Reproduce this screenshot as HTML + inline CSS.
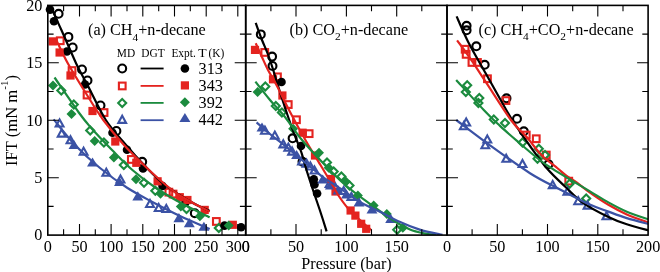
<!DOCTYPE html>
<html><head><meta charset="utf-8"><style>
html,body{margin:0;padding:0;background:#fff;}
body{width:660px;height:272px;overflow:hidden;}
svg{display:block;will-change:transform;}
.t{font-family:"Liberation Serif",serif;font-size:16.2px;fill:#000;}
.s{font-family:"Liberation Serif",serif;font-size:11.4px;fill:#000;}
.sub{font-size:11.4px;}
.sup{font-size:11px;}
</style></head><body>
<svg width="660" height="272" viewBox="0 0 660 272">
<rect width="660" height="272" fill="#fff"/>
<defs><clipPath id="ca"><rect x="47.8" y="5.4" width="197.9" height="229.7"/></clipPath>
<clipPath id="cb"><rect x="245.7" y="5.4" width="201.3" height="229.7"/></clipPath>
<clipPath id="cc"><rect x="447.0" y="5.4" width="201.1" height="229.7"/></clipPath></defs>
<g>
<circle cx="58.6" cy="13.8" r="3.95" fill="none" stroke="#000" stroke-width="2.1"/>
<circle cx="68.4" cy="36.9" r="3.95" fill="none" stroke="#000" stroke-width="2.1"/>
<circle cx="72.7" cy="47.5" r="3.95" fill="none" stroke="#000" stroke-width="2.1"/>
<circle cx="82.0" cy="69.5" r="3.95" fill="none" stroke="#000" stroke-width="2.1"/>
<circle cx="87.5" cy="80.5" r="3.95" fill="none" stroke="#000" stroke-width="2.1"/>
<circle cx="100.5" cy="105.5" r="3.95" fill="none" stroke="#000" stroke-width="2.1"/>
<circle cx="116.4" cy="131.0" r="3.95" fill="none" stroke="#000" stroke-width="2.1"/>
<circle cx="142.2" cy="161.8" r="3.95" fill="none" stroke="#000" stroke-width="2.1"/>
<circle cx="194.8" cy="213.2" r="3.95" fill="none" stroke="#000" stroke-width="2.1"/>
<rect x="56.9" y="37.4" width="6.7" height="6.7" fill="none" stroke="#e4231f" stroke-width="2.1"/>
<rect x="68.7" y="67.2" width="6.7" height="6.7" fill="none" stroke="#e4231f" stroke-width="2.1"/>
<rect x="83.7" y="91.7" width="6.7" height="6.7" fill="none" stroke="#e4231f" stroke-width="2.1"/>
<rect x="100.7" y="109.2" width="6.7" height="6.7" fill="none" stroke="#e4231f" stroke-width="2.1"/>
<rect x="128.0" y="156.1" width="6.7" height="6.7" fill="none" stroke="#e4231f" stroke-width="2.1"/>
<rect x="165.5" y="188.8" width="6.7" height="6.7" fill="none" stroke="#e4231f" stroke-width="2.1"/>
<rect x="169.7" y="190.7" width="6.7" height="6.7" fill="none" stroke="#e4231f" stroke-width="2.1"/>
<rect x="213.0" y="218.1" width="6.7" height="6.7" fill="none" stroke="#e4231f" stroke-width="2.1"/>
<path d="M61.3 86.5L65.3 90.5L61.3 94.5L57.3 90.5Z" fill="none" stroke="#1b8b3e" stroke-width="2.1"/>
<path d="M73.8 100.5L77.8 104.5L73.8 108.5L69.8 104.5Z" fill="none" stroke="#1b8b3e" stroke-width="2.1"/>
<path d="M90.2 126.5L94.2 130.5L90.2 134.5L86.2 130.5Z" fill="none" stroke="#1b8b3e" stroke-width="2.1"/>
<path d="M103.9 138.5L107.9 142.5L103.9 146.5L99.9 142.5Z" fill="none" stroke="#1b8b3e" stroke-width="2.1"/>
<path d="M123.8 161.0L127.8 165.0L123.8 169.0L119.8 165.0Z" fill="none" stroke="#1b8b3e" stroke-width="2.1"/>
<path d="M144.0 178.7L148.0 182.7L144.0 186.7L140.0 182.7Z" fill="none" stroke="#1b8b3e" stroke-width="2.1"/>
<path d="M155.3 186.8L159.3 190.8L155.3 194.8L151.3 190.8Z" fill="none" stroke="#1b8b3e" stroke-width="2.1"/>
<path d="M186.5 205.0L190.5 209.0L186.5 213.0L182.5 209.0Z" fill="none" stroke="#1b8b3e" stroke-width="2.1"/>
<path d="M218.8 224.0L222.8 228.0L218.8 232.0L214.8 228.0Z" fill="none" stroke="#1b8b3e" stroke-width="2.1"/>
<path d="M59.6 119.4L63.5 126.5L55.7 126.5Z" fill="none" stroke="#3b52a5" stroke-width="2.1" stroke-linejoin="miter"/>
<path d="M61.7 129.5L65.6 136.6L57.8 136.6Z" fill="none" stroke="#3b52a5" stroke-width="2.1" stroke-linejoin="miter"/>
<path d="M70.5 136.2L74.4 143.3L66.6 143.3Z" fill="none" stroke="#3b52a5" stroke-width="2.1" stroke-linejoin="miter"/>
<path d="M83.6 147.7L87.5 154.8L79.7 154.8Z" fill="none" stroke="#3b52a5" stroke-width="2.1" stroke-linejoin="miter"/>
<path d="M106.3 168.7L110.2 175.8L102.4 175.8Z" fill="none" stroke="#3b52a5" stroke-width="2.1" stroke-linejoin="miter"/>
<path d="M120.5 175.4L124.4 182.5L116.6 182.5Z" fill="none" stroke="#3b52a5" stroke-width="2.1" stroke-linejoin="miter"/>
<path d="M150.0 199.9L153.9 207.0L146.1 207.0Z" fill="none" stroke="#3b52a5" stroke-width="2.1" stroke-linejoin="miter"/>
<path d="M158.7 203.9L162.6 211.0L154.8 211.0Z" fill="none" stroke="#3b52a5" stroke-width="2.1" stroke-linejoin="miter"/>
<path d="M166.3 204.9L170.2 212.0L162.4 212.0Z" fill="none" stroke="#3b52a5" stroke-width="2.1" stroke-linejoin="miter"/>
<circle cx="50.0" cy="9.6" r="4.3" fill="#000"/>
<circle cx="54.0" cy="21.2" r="4.3" fill="#000"/>
<circle cx="66.9" cy="51.5" r="4.3" fill="#000"/>
<circle cx="85.0" cy="84.5" r="4.3" fill="#000"/>
<circle cx="112.5" cy="132.8" r="4.3" fill="#000"/>
<circle cx="127.0" cy="149.7" r="4.3" fill="#000"/>
<circle cx="143.0" cy="168.5" r="4.3" fill="#000"/>
<circle cx="162.5" cy="186.0" r="4.3" fill="#000"/>
<circle cx="185.5" cy="202.2" r="4.3" fill="#000"/>
<circle cx="224.5" cy="225.6" r="4.3" fill="#000"/>
<circle cx="241.1" cy="227.2" r="4.3" fill="#000"/>
<rect x="48.6" y="37.3" width="8.2" height="8.2" fill="#e4231f"/>
<rect x="55.5" y="48.4" width="8.2" height="8.2" fill="#e4231f"/>
<rect x="66.4" y="71.4" width="8.2" height="8.2" fill="#e4231f"/>
<rect x="88.4" y="106.9" width="8.2" height="8.2" fill="#e4231f"/>
<rect x="111.2" y="137.4" width="8.2" height="8.2" fill="#e4231f"/>
<rect x="132.2" y="158.7" width="8.2" height="8.2" fill="#e4231f"/>
<rect x="153.5" y="177.2" width="8.2" height="8.2" fill="#e4231f"/>
<rect x="175.7" y="193.1" width="8.2" height="8.2" fill="#e4231f"/>
<rect x="183.3" y="195.9" width="8.2" height="8.2" fill="#e4231f"/>
<rect x="200.6" y="205.8" width="8.2" height="8.2" fill="#e4231f"/>
<rect x="228.7" y="220.7" width="8.2" height="8.2" fill="#e4231f"/>
<path d="M53.0 80.5L58.0 85.5L53.0 90.5L48.0 85.5Z" fill="#1b8b3e"/>
<path d="M71.5 109.0L76.5 114.0L71.5 119.0L66.5 114.0Z" fill="#1b8b3e"/>
<path d="M94.7 136.0L99.7 141.0L94.7 146.0L89.7 141.0Z" fill="#1b8b3e"/>
<path d="M113.9 152.4L118.9 157.4L113.9 162.4L108.9 157.4Z" fill="#1b8b3e"/>
<path d="M136.0 174.2L141.0 179.2L136.0 184.2L131.0 179.2Z" fill="#1b8b3e"/>
<path d="M160.5 188.8L165.5 193.8L160.5 198.8L155.5 193.8Z" fill="#1b8b3e"/>
<path d="M180.8 201.6L185.8 206.6L180.8 211.6L175.8 206.6Z" fill="#1b8b3e"/>
<path d="M199.9 211.3L204.9 216.3L199.9 221.3L194.9 216.3Z" fill="#1b8b3e"/>
<path d="M228.7 220.6L233.7 225.6L228.7 230.6L223.7 225.6Z" fill="#1b8b3e"/>
<path d="M74.0 140.0L79.5 149.1L68.5 149.1Z" fill="#3b52a5"/>
<path d="M92.5 157.5L98.0 166.6L87.0 166.6Z" fill="#3b52a5"/>
<path d="M119.5 177.0L125.0 186.1L114.0 186.1Z" fill="#3b52a5"/>
<path d="M137.8 191.3L143.3 200.4L132.3 200.4Z" fill="#3b52a5"/>
<path d="M178.9 213.1L184.4 222.2L173.4 222.2Z" fill="#3b52a5"/>
<path d="M189.3 218.1L194.8 227.2L183.8 227.2Z" fill="#3b52a5"/>
<path d="M203.9 221.7L209.4 230.8L198.4 230.8Z" fill="#3b52a5"/>
<g clip-path="url(#ca)">
<path d="M50.3 5.7C52.1 9.8 57.0 20.3 61.4 30.0C65.8 39.7 72.1 54.8 76.4 64.0C80.8 73.2 82.6 75.7 87.5 85.0C92.4 94.3 99.4 110.0 105.8 120.0C112.2 130.0 119.5 137.3 126.0 145.0C132.5 152.7 138.5 159.3 145.0 166.0C151.5 172.7 157.0 178.8 165.0 185.0C173.0 191.2 185.6 198.7 193.0 203.0C200.4 207.3 206.9 209.7 209.7 211.0" fill="none" stroke="#000" stroke-width="2.2" stroke-linejoin="round"/>
<path d="M56.5 40.5C58.5 44.4 63.2 54.9 68.2 64.0C73.3 73.1 81.2 85.7 87.0 95.0C92.8 104.3 97.1 111.7 103.3 120.0C109.5 128.3 117.2 137.5 124.0 145.0C130.8 152.5 137.8 159.2 143.8 165.0C149.8 170.8 154.6 175.3 160.0 180.0C165.4 184.7 170.5 189.2 176.0 193.0C181.5 196.8 187.4 199.9 193.0 203.0C198.6 206.1 206.9 210.1 209.7 211.5" fill="none" stroke="#e4231f" stroke-width="2.2" stroke-linejoin="round"/>
<path d="M54.5 77.5C58.5 83.2 72.3 103.6 78.4 112.0C84.5 120.4 85.7 121.7 91.2 128.0C96.8 134.3 105.1 143.0 112.0 150.0C118.9 157.0 125.1 163.7 132.4 170.0C139.7 176.3 147.9 182.5 156.0 188.0C164.1 193.5 172.1 198.1 181.0 203.0C189.9 207.9 204.9 214.9 209.7 217.3" fill="none" stroke="#1b8b3e" stroke-width="2.2" stroke-linejoin="round"/>
<path d="M53.6 119.4C57.2 123.7 67.3 136.9 75.0 145.0C82.7 153.1 91.2 160.8 100.0 168.0C108.8 175.2 118.5 182.2 127.5 188.0C136.6 193.8 145.6 198.3 154.3 203.0C163.1 207.7 170.8 211.7 180.0 216.0C189.2 220.3 204.8 226.8 209.7 229.0" fill="none" stroke="#3b52a5" stroke-width="2.2" stroke-linejoin="round"/>
</g>
</g>
<g>
<circle cx="260.8" cy="34.4" r="3.95" fill="none" stroke="#000" stroke-width="2.1"/>
<circle cx="272.1" cy="56.6" r="3.95" fill="none" stroke="#000" stroke-width="2.1"/>
<circle cx="272.5" cy="66.0" r="3.95" fill="none" stroke="#000" stroke-width="2.1"/>
<circle cx="292.6" cy="138.3" r="3.95" fill="none" stroke="#000" stroke-width="2.1"/>
<circle cx="302.5" cy="161.8" r="3.95" fill="none" stroke="#000" stroke-width="2.1"/>
<rect x="261.4" y="49.1" width="6.7" height="6.7" fill="none" stroke="#e4231f" stroke-width="2.1"/>
<rect x="274.1" y="73.5" width="6.7" height="6.7" fill="none" stroke="#e4231f" stroke-width="2.1"/>
<rect x="284.9" y="101.2" width="6.7" height="6.7" fill="none" stroke="#e4231f" stroke-width="2.1"/>
<rect x="293.1" y="116.4" width="6.7" height="6.7" fill="none" stroke="#e4231f" stroke-width="2.1"/>
<rect x="305.8" y="130.3" width="6.7" height="6.7" fill="none" stroke="#e4231f" stroke-width="2.1"/>
<path d="M265.3 82.6L269.3 86.6L265.3 90.6L261.3 86.6Z" fill="none" stroke="#1b8b3e" stroke-width="2.1"/>
<path d="M275.8 101.9L279.8 105.9L275.8 109.9L271.8 105.9Z" fill="none" stroke="#1b8b3e" stroke-width="2.1"/>
<path d="M281.9 108.5L285.9 112.5L281.9 116.5L277.9 112.5Z" fill="none" stroke="#1b8b3e" stroke-width="2.1"/>
<path d="M327.0 158.5L331.0 162.5L327.0 166.5L323.0 162.5Z" fill="none" stroke="#1b8b3e" stroke-width="2.1"/>
<path d="M333.7 167.6L337.7 171.6L333.7 175.6L329.7 171.6Z" fill="none" stroke="#1b8b3e" stroke-width="2.1"/>
<path d="M341.4 172.5L345.4 176.5L341.4 180.5L337.4 176.5Z" fill="none" stroke="#1b8b3e" stroke-width="2.1"/>
<path d="M349.5 181.5L353.5 185.5L349.5 189.5L345.5 185.5Z" fill="none" stroke="#1b8b3e" stroke-width="2.1"/>
<path d="M397.2 225.8L401.2 229.8L397.2 233.8L393.2 229.8Z" fill="none" stroke="#1b8b3e" stroke-width="2.1"/>
<path d="M264.9 126.6L268.8 133.7L261.0 133.7Z" fill="none" stroke="#3b52a5" stroke-width="2.1" stroke-linejoin="miter"/>
<path d="M274.8 131.6L278.7 138.7L270.9 138.7Z" fill="none" stroke="#3b52a5" stroke-width="2.1" stroke-linejoin="miter"/>
<path d="M283.3 140.3L287.2 147.4L279.4 147.4Z" fill="none" stroke="#3b52a5" stroke-width="2.1" stroke-linejoin="miter"/>
<path d="M288.3 143.6L292.2 150.7L284.4 150.7Z" fill="none" stroke="#3b52a5" stroke-width="2.1" stroke-linejoin="miter"/>
<path d="M292.1 147.5L296.0 154.6L288.2 154.6Z" fill="none" stroke="#3b52a5" stroke-width="2.1" stroke-linejoin="miter"/>
<path d="M302.0 157.4L305.9 164.5L298.1 164.5Z" fill="none" stroke="#3b52a5" stroke-width="2.1" stroke-linejoin="miter"/>
<path d="M306.5 159.6L310.4 166.7L302.6 166.7Z" fill="none" stroke="#3b52a5" stroke-width="2.1" stroke-linejoin="miter"/>
<path d="M310.4 162.4L314.3 169.5L306.5 169.5Z" fill="none" stroke="#3b52a5" stroke-width="2.1" stroke-linejoin="miter"/>
<path d="M314.5 166.4L318.4 173.5L310.6 173.5Z" fill="none" stroke="#3b52a5" stroke-width="2.1" stroke-linejoin="miter"/>
<path d="M329.6 179.9L333.5 187.0L325.7 187.0Z" fill="none" stroke="#3b52a5" stroke-width="2.1" stroke-linejoin="miter"/>
<path d="M332.6 178.6L336.5 185.7L328.7 185.7Z" fill="none" stroke="#3b52a5" stroke-width="2.1" stroke-linejoin="miter"/>
<path d="M343.7 186.9L347.6 194.0L339.8 194.0Z" fill="none" stroke="#3b52a5" stroke-width="2.1" stroke-linejoin="miter"/>
<path d="M351.4 192.9L355.3 200.0L347.5 200.0Z" fill="none" stroke="#3b52a5" stroke-width="2.1" stroke-linejoin="miter"/>
<circle cx="281.5" cy="82.0" r="4.3" fill="#000"/>
<circle cx="301.0" cy="146.0" r="4.3" fill="#000"/>
<circle cx="313.8" cy="179.3" r="4.3" fill="#000"/>
<circle cx="314.5" cy="184.5" r="4.3" fill="#000"/>
<circle cx="317.1" cy="193.5" r="4.3" fill="#000"/>
<rect x="250.9" y="45.8" width="8.2" height="8.2" fill="#e4231f"/>
<rect x="268.9" y="75.2" width="8.2" height="8.2" fill="#e4231f"/>
<rect x="278.3" y="91.4" width="8.2" height="8.2" fill="#e4231f"/>
<rect x="298.5" y="128.6" width="8.2" height="8.2" fill="#e4231f"/>
<rect x="310.9" y="151.4" width="8.2" height="8.2" fill="#e4231f"/>
<rect x="326.9" y="174.9" width="8.2" height="8.2" fill="#e4231f"/>
<rect x="331.4" y="187.4" width="8.2" height="8.2" fill="#e4231f"/>
<rect x="346.5" y="206.4" width="8.2" height="8.2" fill="#e4231f"/>
<rect x="351.3" y="211.5" width="8.2" height="8.2" fill="#e4231f"/>
<rect x="357.1" y="219.7" width="8.2" height="8.2" fill="#e4231f"/>
<rect x="362.1" y="224.7" width="8.2" height="8.2" fill="#e4231f"/>
<path d="M257.6 87.1L262.6 92.1L257.6 97.1L252.6 92.1Z" fill="#1b8b3e"/>
<path d="M293.1 123.8L298.1 128.8L293.1 133.8L288.1 128.8Z" fill="#1b8b3e"/>
<path d="M319.0 147.8L324.0 152.8L319.0 157.8L314.0 152.8Z" fill="#1b8b3e"/>
<path d="M328.7 162.8L333.7 167.8L328.7 172.8L323.7 167.8Z" fill="#1b8b3e"/>
<path d="M345.8 176.5L350.8 181.5L345.8 186.5L340.8 181.5Z" fill="#1b8b3e"/>
<path d="M357.9 190.5L362.9 195.5L357.9 200.5L352.9 195.5Z" fill="#1b8b3e"/>
<path d="M373.7 200.5L378.7 205.5L373.7 210.5L368.7 205.5Z" fill="#1b8b3e"/>
<path d="M386.8 209.0L391.8 214.0L386.8 219.0L381.8 214.0Z" fill="#1b8b3e"/>
<path d="M402.8 222.8L407.8 227.8L402.8 232.8L397.8 227.8Z" fill="#1b8b3e"/>
<path d="M262.0 122.5L267.5 131.6L256.5 131.6Z" fill="#3b52a5"/>
<path d="M296.6 150.0L302.1 159.1L291.1 159.1Z" fill="#3b52a5"/>
<path d="M322.7 174.5L328.2 183.6L317.2 183.6Z" fill="#3b52a5"/>
<path d="M330.4 180.5L335.9 189.6L324.9 189.6Z" fill="#3b52a5"/>
<path d="M338.1 185.3L343.6 194.4L332.6 194.4Z" fill="#3b52a5"/>
<path d="M346.5 189.5L352.0 198.6L341.0 198.6Z" fill="#3b52a5"/>
<path d="M359.0 197.3L364.5 206.4L353.5 206.4Z" fill="#3b52a5"/>
<path d="M372.0 204.5L377.5 213.6L366.5 213.6Z" fill="#3b52a5"/>
<path d="M390.7 213.8L396.2 222.9L385.2 222.9Z" fill="#3b52a5"/>
<g clip-path="url(#cb)">
<path d="M255.7 22.9C256.8 25.8 259.6 33.8 262.0 40.0C264.4 46.2 266.6 50.0 270.0 60.0C273.4 70.0 278.8 88.7 282.5 100.0C286.2 111.3 289.6 121.3 292.0 128.0C294.4 134.7 294.9 135.6 296.6 140.0C298.3 144.4 300.4 149.3 302.0 154.3C303.6 159.3 304.7 164.1 306.5 170.0C308.3 175.9 310.8 183.3 313.0 190.0C315.2 196.7 317.5 203.1 319.8 210.0C322.1 216.9 325.5 227.8 326.6 231.4" fill="none" stroke="#000" stroke-width="2.2" stroke-linejoin="round"/>
<path d="M255.7 43.3C256.7 45.4 259.4 51.5 261.5 56.0C263.6 60.5 265.4 65.0 268.0 70.0C270.6 75.0 273.5 79.3 277.0 86.0C280.5 92.7 284.3 101.0 289.0 110.0C293.7 119.0 300.1 130.8 305.4 140.0C310.6 149.2 316.0 157.5 320.5 165.0C325.0 172.5 329.6 180.0 332.5 185.0C335.4 190.0 335.5 191.1 338.1 195.0C340.7 198.9 344.2 204.0 347.9 208.2C351.5 212.4 356.1 216.4 360.0 220.0C363.9 223.6 369.4 228.3 371.2 230.0" fill="none" stroke="#e4231f" stroke-width="2.2" stroke-linejoin="round"/>
<path d="M255.4 81.7C257.8 84.8 265.1 94.1 270.0 100.0C274.9 105.9 279.7 110.3 285.0 117.0C290.3 123.7 295.4 132.0 302.0 140.0C308.6 148.0 317.7 157.5 324.9 165.0C332.1 172.5 337.8 178.5 345.3 185.0C352.8 191.5 361.7 197.9 370.0 204.0C378.3 210.1 388.3 217.2 395.0 221.5C401.7 225.8 405.2 227.5 410.0 229.5C414.8 231.5 419.4 232.4 423.7 233.3C428.0 234.2 433.9 234.5 436.0 234.7" fill="none" stroke="#1b8b3e" stroke-width="2.2" stroke-linejoin="round"/>
<path d="M256.6 122.4C258.8 124.3 265.6 130.3 270.0 134.0C274.4 137.7 278.9 140.8 283.3 144.4C287.7 148.0 292.2 151.8 296.6 155.5C301.1 159.2 305.4 162.8 310.0 166.5C314.6 170.2 319.4 174.7 324.0 178.0C328.6 181.3 331.6 182.6 337.6 186.6C343.6 190.6 352.9 197.8 360.0 202.0C367.1 206.2 373.8 208.7 380.0 211.8C386.2 214.9 390.6 217.8 397.2 220.8C403.8 223.8 412.1 227.2 419.7 229.6C427.2 231.9 438.7 234.0 442.5 234.9" fill="none" stroke="#3b52a5" stroke-width="2.2" stroke-linejoin="round"/>
</g>
</g>
<g>
<circle cx="466.6" cy="25.8" r="3.95" fill="none" stroke="#000" stroke-width="2.1"/>
<circle cx="466.6" cy="30.3" r="3.95" fill="none" stroke="#000" stroke-width="2.1"/>
<circle cx="476.3" cy="46.3" r="3.95" fill="none" stroke="#000" stroke-width="2.1"/>
<circle cx="484.7" cy="64.8" r="3.95" fill="none" stroke="#000" stroke-width="2.1"/>
<circle cx="506.5" cy="98.3" r="3.95" fill="none" stroke="#000" stroke-width="2.1"/>
<circle cx="517.0" cy="118.8" r="3.95" fill="none" stroke="#000" stroke-width="2.1"/>
<circle cx="523.8" cy="131.3" r="3.95" fill="none" stroke="#000" stroke-width="2.1"/>
<circle cx="548.5" cy="164.3" r="3.95" fill="none" stroke="#000" stroke-width="2.1"/>
<rect x="461.8" y="45.9" width="6.7" height="6.7" fill="none" stroke="#e4231f" stroke-width="2.1"/>
<rect x="462.8" y="51.0" width="6.7" height="6.7" fill="none" stroke="#e4231f" stroke-width="2.1"/>
<rect x="468.6" y="59.1" width="6.7" height="6.7" fill="none" stroke="#e4231f" stroke-width="2.1"/>
<rect x="474.1" y="59.1" width="6.7" height="6.7" fill="none" stroke="#e4231f" stroke-width="2.1"/>
<rect x="484.1" y="75.4" width="6.7" height="6.7" fill="none" stroke="#e4231f" stroke-width="2.1"/>
<rect x="502.6" y="97.2" width="6.7" height="6.7" fill="none" stroke="#e4231f" stroke-width="2.1"/>
<rect x="522.9" y="131.7" width="6.7" height="6.7" fill="none" stroke="#e4231f" stroke-width="2.1"/>
<rect x="532.9" y="135.4" width="6.7" height="6.7" fill="none" stroke="#e4231f" stroke-width="2.1"/>
<rect x="542.9" y="151.7" width="6.7" height="6.7" fill="none" stroke="#e4231f" stroke-width="2.1"/>
<rect x="565.4" y="177.8" width="6.7" height="6.7" fill="none" stroke="#e4231f" stroke-width="2.1"/>
<path d="M467.2 81.3L471.2 85.3L467.2 89.3L463.2 85.3Z" fill="none" stroke="#1b8b3e" stroke-width="2.1"/>
<path d="M465.8 87.9L469.8 91.9L465.8 95.9L461.8 91.9Z" fill="none" stroke="#1b8b3e" stroke-width="2.1"/>
<path d="M479.3 94.0L483.3 98.0L479.3 102.0L475.3 98.0Z" fill="none" stroke="#1b8b3e" stroke-width="2.1"/>
<path d="M478.4 99.0L482.4 103.0L478.4 107.0L474.4 103.0Z" fill="none" stroke="#1b8b3e" stroke-width="2.1"/>
<path d="M493.8 115.5L497.8 119.5L493.8 123.5L489.8 119.5Z" fill="none" stroke="#1b8b3e" stroke-width="2.1"/>
<path d="M505.0 119.0L509.0 123.0L505.0 127.0L501.0 123.0Z" fill="none" stroke="#1b8b3e" stroke-width="2.1"/>
<path d="M522.5 138.5L526.5 142.5L522.5 146.5L518.5 142.5Z" fill="none" stroke="#1b8b3e" stroke-width="2.1"/>
<path d="M538.8 144.8L542.8 148.8L538.8 152.8L534.8 148.8Z" fill="none" stroke="#1b8b3e" stroke-width="2.1"/>
<path d="M537.5 154.8L541.5 158.8L537.5 162.8L533.5 158.8Z" fill="none" stroke="#1b8b3e" stroke-width="2.1"/>
<path d="M545.0 151.0L549.0 155.0L545.0 159.0L541.0 155.0Z" fill="none" stroke="#1b8b3e" stroke-width="2.1"/>
<path d="M569.6 179.8L573.6 183.8L569.6 187.8L565.6 183.8Z" fill="none" stroke="#1b8b3e" stroke-width="2.1"/>
<path d="M586.2 194.5L590.2 198.5L586.2 202.5L582.2 198.5Z" fill="none" stroke="#1b8b3e" stroke-width="2.1"/>
<path d="M466.2 118.4L470.1 125.5L462.4 125.5Z" fill="none" stroke="#3b52a5" stroke-width="2.1" stroke-linejoin="miter"/>
<path d="M463.8 122.2L467.6 129.2L459.9 129.2Z" fill="none" stroke="#3b52a5" stroke-width="2.1" stroke-linejoin="miter"/>
<path d="M487.3 135.4L491.2 142.5L483.4 142.5Z" fill="none" stroke="#3b52a5" stroke-width="2.1" stroke-linejoin="miter"/>
<path d="M485.3 141.2L489.2 148.3L481.4 148.3Z" fill="none" stroke="#3b52a5" stroke-width="2.1" stroke-linejoin="miter"/>
<path d="M506.2 154.7L510.1 161.7L502.4 161.7Z" fill="none" stroke="#3b52a5" stroke-width="2.1" stroke-linejoin="miter"/>
<path d="M522.5 159.9L526.4 167.0L518.6 167.0Z" fill="none" stroke="#3b52a5" stroke-width="2.1" stroke-linejoin="miter"/>
<path d="M552.7 181.0L556.6 188.1L548.8 188.1Z" fill="none" stroke="#3b52a5" stroke-width="2.1" stroke-linejoin="miter"/>
<path d="M567.4 187.7L571.3 194.8L563.5 194.8Z" fill="none" stroke="#3b52a5" stroke-width="2.1" stroke-linejoin="miter"/>
<path d="M578.2 197.1L582.1 204.2L574.3 204.2Z" fill="none" stroke="#3b52a5" stroke-width="2.1" stroke-linejoin="miter"/>
<path d="M587.6 201.5L591.5 208.6L583.7 208.6Z" fill="none" stroke="#3b52a5" stroke-width="2.1" stroke-linejoin="miter"/>
<path d="M606.4 212.1L610.3 219.2L602.5 219.2Z" fill="none" stroke="#3b52a5" stroke-width="2.1" stroke-linejoin="miter"/>
<g clip-path="url(#cc)">
<path d="M456.6 16.4C458.5 20.7 463.4 32.6 468.2 42.0C473.0 51.4 479.8 62.9 485.5 73.0C491.2 83.1 497.6 94.6 502.2 102.7C506.8 110.8 508.6 114.3 513.2 121.5C517.8 128.7 524.4 138.2 530.0 146.0C535.6 153.8 540.8 161.2 546.6 168.0C552.4 174.8 558.9 180.7 565.0 186.5C571.1 192.3 575.8 197.7 583.0 202.8C590.2 207.9 601.1 213.4 608.4 217.0C615.7 220.6 620.0 222.1 626.8 224.3C633.6 226.6 645.3 229.5 649.0 230.5" fill="none" stroke="#000" stroke-width="2.2" stroke-linejoin="round"/>
<path d="M457.1 40.3C459.4 43.5 466.1 52.4 470.9 59.4C475.7 66.4 479.2 72.1 485.9 82.2C492.6 92.3 504.1 110.8 510.9 120.0C517.7 129.2 521.6 131.3 526.7 137.1C531.8 142.9 536.3 149.8 541.4 155.0C546.5 160.2 553.1 164.6 557.2 168.0C561.3 171.4 562.7 173.0 566.0 175.4C569.3 177.8 573.0 179.8 577.0 182.7C581.0 185.6 584.8 188.9 590.0 192.6C595.2 196.3 602.3 201.2 608.4 204.8C614.5 208.4 620.0 211.4 626.8 214.4C633.6 217.4 645.3 221.3 649.0 222.7" fill="none" stroke="#e4231f" stroke-width="2.2" stroke-linejoin="round"/>
<path d="M456.2 80.0C460.8 85.0 476.5 102.3 483.8 110.0C491.0 117.7 494.0 120.3 500.0 125.9C506.0 131.5 513.4 137.8 520.0 143.5C526.6 149.2 534.3 155.8 539.7 160.0C545.1 164.2 546.6 165.0 552.2 168.6C557.8 172.2 566.9 177.6 573.2 181.4C579.5 185.2 584.1 187.9 590.0 191.4C595.9 194.9 602.3 199.0 608.4 202.4C614.5 205.8 620.0 208.8 626.8 211.7C633.6 214.6 645.3 218.3 649.0 219.6" fill="none" stroke="#1b8b3e" stroke-width="2.2" stroke-linejoin="round"/>
<path d="M456.2 120.0C461.9 124.2 477.7 136.4 490.0 145.3C502.3 154.2 518.3 165.8 530.0 173.2C541.7 180.6 550.3 184.4 560.0 189.5C569.7 194.6 579.9 200.1 588.0 203.8C596.1 207.5 601.9 209.2 608.4 211.6C614.9 214.0 620.0 216.0 626.8 218.1C633.6 220.2 645.3 223.2 649.0 224.2" fill="none" stroke="#3b52a5" stroke-width="2.2" stroke-linejoin="round"/>
</g>
</g>
<g>
<circle cx="122.2" cy="68.5" r="3.95" fill="none" stroke="#000" stroke-width="2.1"/>
<path d="M140.6 68.5H163.6" stroke="#000" stroke-width="1.8"/>
<circle cx="184.9" cy="68.5" r="4.3" fill="#000"/>
<text x="198.6" y="73.9" class="t">313</text>
<rect x="118.9" y="82.6" width="6.7" height="6.7" fill="none" stroke="#e4231f" stroke-width="2.1"/>
<path d="M140.6 85.9H163.6" stroke="#e4231f" stroke-width="1.8"/>
<rect x="180.8" y="81.3" width="8.2" height="8.2" fill="#e4231f"/>
<text x="198.6" y="90.9" class="t">343</text>
<path d="M122.2 99.1L126.2 103.1L122.2 107.1L118.2 103.1Z" fill="none" stroke="#1b8b3e" stroke-width="2.1"/>
<path d="M140.6 102.9H163.6" stroke="#1b8b3e" stroke-width="1.8"/>
<path d="M184.9 97.3L189.9 102.3L184.9 107.3L179.9 102.3Z" fill="#1b8b3e"/>
<text x="198.6" y="107.8" class="t">392</text>
<path d="M122.2 115.8L126.1 122.9L118.3 122.9Z" fill="none" stroke="#3b52a5" stroke-width="2.1" stroke-linejoin="miter"/>
<path d="M140.6 120.2H163.6" stroke="#3b52a5" stroke-width="1.8"/>
<path d="M184.9 113.0L190.4 122.1L179.4 122.1Z" fill="#3b52a5"/>
<text x="198.6" y="124.8" class="t">442</text>
</g>
<path d="M63.6 235.1v-5.8M63.6 5.4v5.8M79.5 235.1v-11M79.5 5.4v11M95.3 235.1v-5.8M95.3 5.4v5.8M111.1 235.1v-11M111.1 5.4v11M127.0 235.1v-5.8M127.0 5.4v5.8M142.8 235.1v-11M142.8 5.4v11M158.7 235.1v-5.8M158.7 5.4v5.8M174.5 235.1v-11M174.5 5.4v11M190.3 235.1v-5.8M190.3 5.4v5.8M206.2 235.1v-11M206.2 5.4v11M222.0 235.1v-5.8M222.0 5.4v5.8M237.8 235.1v-11M237.8 5.4v11M47.8 206.4h5.8M245.7 206.4h-5.8M47.8 177.7h11M245.7 177.7h-11M47.8 149.0h5.8M245.7 149.0h-5.8M47.8 120.2h11M245.7 120.2h-11M47.8 91.5h5.8M245.7 91.5h-5.8M47.8 62.8h11M245.7 62.8h-11M47.8 34.1h5.8M245.7 34.1h-5.8M270.9 235.1v-5.8M270.9 5.4v5.8M296.0 235.1v-11M296.0 5.4v11M321.2 235.1v-5.8M321.2 5.4v5.8M346.4 235.1v-11M346.4 5.4v11M371.5 235.1v-5.8M371.5 5.4v5.8M396.7 235.1v-11M396.7 5.4v11M421.8 235.1v-5.8M421.8 5.4v5.8M245.7 206.4h5.8M447.0 206.4h-5.8M245.7 177.7h11M447.0 177.7h-11M245.7 149.0h5.8M447.0 149.0h-5.8M245.7 120.2h11M447.0 120.2h-11M245.7 91.5h5.8M447.0 91.5h-5.8M245.7 62.8h11M447.0 62.8h-11M245.7 34.1h5.8M447.0 34.1h-5.8M472.1 235.1v-5.8M472.1 5.4v5.8M497.3 235.1v-11M497.3 5.4v11M522.4 235.1v-5.8M522.4 5.4v5.8M547.5 235.1v-11M547.5 5.4v11M572.7 235.1v-5.8M572.7 5.4v5.8M597.8 235.1v-11M597.8 5.4v11M623.0 235.1v-5.8M623.0 5.4v5.8M447.0 206.4h5.8M648.1 206.4h-5.8M447.0 177.7h11M648.1 177.7h-11M447.0 149.0h5.8M648.1 149.0h-5.8M447.0 120.2h11M648.1 120.2h-11M447.0 91.5h5.8M648.1 91.5h-5.8M447.0 62.8h11M648.1 62.8h-11M447.0 34.1h5.8M648.1 34.1h-5.8" stroke="#000" stroke-width="1.1" fill="none"/>
<rect x="47.8" y="5.4" width="197.9" height="229.7" fill="none" stroke="#000" stroke-width="1.6"/>
<rect x="245.7" y="5.4" width="201.3" height="229.7" fill="none" stroke="#000" stroke-width="1.6"/>
<rect x="447.0" y="5.4" width="201.1" height="229.7" fill="none" stroke="#000" stroke-width="1.6"/>
<text x="42.4" y="240.4" class="t" text-anchor="end">0</text>
<text x="42.4" y="183.0" class="t" text-anchor="end">5</text>
<text x="42.4" y="125.5" class="t" text-anchor="end">10</text>
<text x="42.4" y="68.1" class="t" text-anchor="end">15</text>
<text x="42.4" y="10.7" class="t" text-anchor="end">20</text>
<text x="47.8" y="252.0" class="t" text-anchor="middle">0</text>
<text x="79.5" y="252.0" class="t" text-anchor="middle">50</text>
<text x="111.1" y="252.0" class="t" text-anchor="middle">100</text>
<text x="142.8" y="252.0" class="t" text-anchor="middle">150</text>
<text x="174.5" y="252.0" class="t" text-anchor="middle">200</text>
<text x="206.2" y="252.0" class="t" text-anchor="middle">250</text>
<text x="237.8" y="252.0" class="t" text-anchor="middle">300</text>
<text x="245.7" y="252.0" class="t" text-anchor="middle">0</text>
<text x="296.0" y="252.0" class="t" text-anchor="middle">50</text>
<text x="346.4" y="252.0" class="t" text-anchor="middle">100</text>
<text x="396.7" y="252.0" class="t" text-anchor="middle">150</text>
<text x="447.0" y="252.0" class="t" text-anchor="middle">0</text>
<text x="497.3" y="252.0" class="t" text-anchor="middle">50</text>
<text x="547.5" y="252.0" class="t" text-anchor="middle">100</text>
<text x="597.8" y="252.0" class="t" text-anchor="middle">150</text>
<text x="648.1" y="252.0" class="t" text-anchor="middle">200</text>
<text x="88" y="34.7" class="t">(a) CH<tspan class="sub" dy="5.8">4</tspan><tspan dy="-5.8">+n-decane</tspan></text>
<text x="289.6" y="34.6" class="t">(b) CO<tspan class="sub" dy="5.8">2</tspan><tspan dy="-5.8">+n-decane</tspan></text>
<text x="478.5" y="34.6" class="t">(c) CH<tspan class="sub" dy="5.8">4</tspan><tspan dy="-5.8">+CO</tspan><tspan class="sub" dy="5.8">2</tspan><tspan dy="-5.8">+n-decane</tspan></text>
<text transform="translate(116.8 57.3) scale(1 1.12)" class="s">MD</text>
<text transform="translate(141.2 57.3) scale(1 1.12)" class="s">DGT</text>
<text transform="translate(171.4 57.3) scale(1 1.12)" class="s">Expt.</text>
<text transform="translate(198.2 57.3) scale(1.2 1.12)" class="s">T</text>
<text transform="translate(208.4 57.3) scale(1 1.12)" class="s">(K)</text>
<text x="346.5" y="268.5" class="t" text-anchor="middle">Pressure (bar)</text>
<text transform="translate(17.4 120.5) rotate(-90)" class="t" style="font-size:16.6px" text-anchor="middle">IFT (mN m<tspan class="sup" dy="-9.2">-1</tspan><tspan dy="9.2">)</tspan></text>
</svg>
</body></html>
